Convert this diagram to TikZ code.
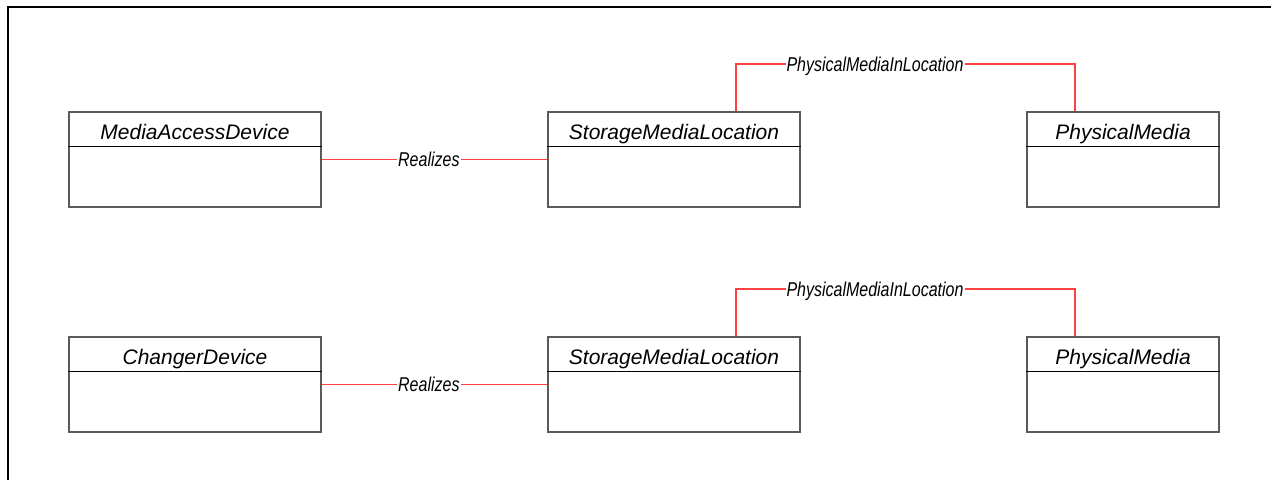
\documentclass[tikz,border=0pt]{standalone}
\usepackage{fontspec}
\setmainfont{Liberation Sans}
\newfontfamily\lblfont[FakeStretch=0.8]{Liberation Sans}
\usetikzlibrary{positioning, calc}
\definecolor{LinkRed}{HTML}{FF4040}
\definecolor{BoxGray}{HTML}{5A5A5A}

\begin{document}
\begin{tikzpicture}[x=1pt, y=-1pt,
        clsbox/.style={draw=BoxGray, line width=1.3pt, minimum width=252, minimum height=95, inner sep=0},
        smallbox/.style={clsbox, minimum width=192},
        clsname/.style={anchor=base, inner sep=0, font=\fontsize{21}{25}\selectfont\itshape},
        divider/.style={line width=0.9pt, black},
        lbl/.style={fill=white, text=black, inner sep=1pt, text height=14, text depth=0,
                    font=\lblfont\fontsize{20}{24}\selectfont\itshape},
        link/.style={LinkRed, line width=1.2pt},
      ]
        \useasboundingbox (0,0) rectangle (1271,480);
        % outer frame (open right and bottom)
        \draw[line width=2.6pt] (8,480) -- (8,7) -- (1271,7);

        % first row
        \node[clsbox] (mad) at (195,159.5) {};
        \node[clsname] (madn) at ([yshift=-28]mad.north) {MediaAccessDevice};
        \draw[divider] ([yshift=-35]mad.north west) -- ([yshift=-35]mad.north east);

        \node[clsbox] (sml) at (674,159.5) {};
        \node[clsname] (smln) at ([yshift=-28]sml.north) {StorageMediaLocation};
        \draw[divider] ([yshift=-35]sml.north west) -- ([yshift=-35]sml.north east);

        \node[smallbox] (pm) at (1123,159.5) {};
        \node[clsname] (pmn) at ([yshift=-28]pm.north) {PhysicalMedia};
        \draw[divider] ([yshift=-35]pm.north west) -- ([yshift=-35]pm.north east);

        \draw[link] (mad.east) -- node[lbl, pos=0.475] {Realizes} (sml.west);
        \coordinate (smlup) at ([xshift=62]sml.north);
        \coordinate (pmup) at ([xshift=-48]pm.north);
        \draw[link] (smlup) -- (smlup |- 0,64)
            -- node[lbl, pos=0.41] {PhysicalMediaInLocation} (pmup |- 0,64) -- (pmup);

        % second row
        \node[clsbox] (cd) at (195,384.5) {};
        \node[clsname] (cdn) at ([yshift=-28]cd.north) {ChangerDevice};
        \draw[divider] ([yshift=-35]cd.north west) -- ([yshift=-35]cd.north east);

        \node[clsbox] (smlb) at (674,384.5) {};
        \node[clsname] (smlbn) at ([yshift=-28]smlb.north) {StorageMediaLocation};
        \draw[divider] ([yshift=-35]smlb.north west) -- ([yshift=-35]smlb.north east);

        \node[smallbox] (pmb) at (1123,384.5) {};
        \node[clsname] (pmbn) at ([yshift=-28]pmb.north) {PhysicalMedia};
        \draw[divider] ([yshift=-35]pmb.north west) -- ([yshift=-35]pmb.north east);

        \draw[link] (cd.east) -- node[lbl, pos=0.475] {Realizes} (smlb.west);
        \coordinate (smlbup) at ([xshift=62]smlb.north);
        \coordinate (pmbup) at ([xshift=-48]pmb.north);
        \draw[link] (smlbup) -- (smlbup |- 0,289)
            -- node[lbl, pos=0.41] {PhysicalMediaInLocation} (pmbup |- 0,289) -- (pmbup);
      \end{tikzpicture}
\end{document}
